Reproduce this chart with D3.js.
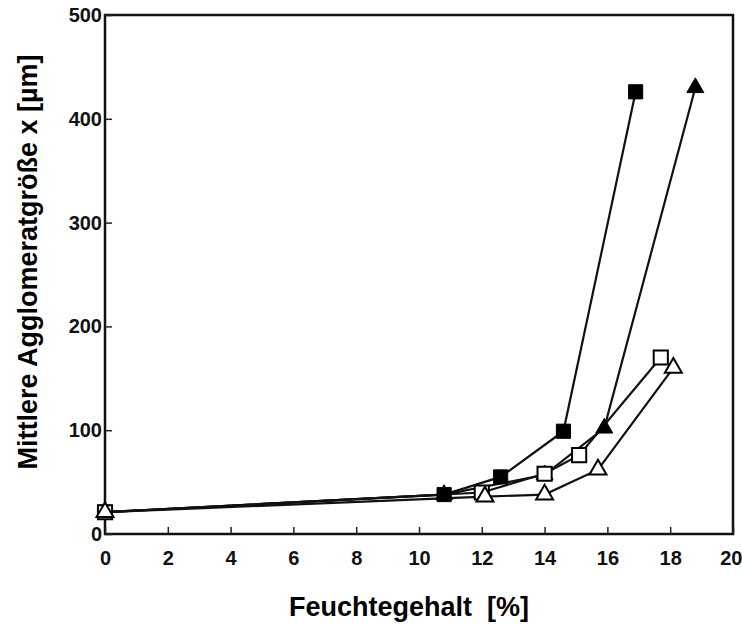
<!DOCTYPE html>
<html>
<head>
<meta charset="utf-8">
<script src="https://cdn.jsdelivr.net/npm/d3@7"></script>
<style>
  html, body { margin: 0; padding: 0; background: #fff; }
  svg { display: block; }
</style>
</head>
<body>
<div id="chart"></div>
<script>
// values
const xTicks = [0, 2, 4, 6, 8, 10, 12, 14, 16, 18, 20];
const yTicks = [0, 100, 200, 300, 400, 500];

const filledSquareX = [0, 10.8, 12.6, 14.6, 16.9];
const filledSquareY = [21, 38, 55, 99, 426];

const filledTriangleX = [0, 10.8, 14.0, 15.9, 18.8];
const filledTriangleY = [21, 38, 57, 102, 430];

const openSquareX = [0, 12.0, 14.0, 15.1, 17.7];
const openSquareY = [21, 40, 58, 76, 170];

const openTriangleX = [0, 12.1, 14.0, 15.7, 18.1];
const openTriangleY = [21, 36, 38, 62, 160];

const xLabel = 'Feuchtegehalt  [%]';
const yLabel = 'Mittlere Agglomeratgröße x [µm]';

const width = 743, height = 630;
const margin = { top: 15, right: 10, bottom: 96, left: 105 };

const svg = d3.select('#chart').append('svg')
  .attr('width', width)
  .attr('height', height);

const x = d3.scaleLinear()
  .domain([0, 20])
  .range([margin.left, width - margin.right]);

const y = d3.scaleLinear()
  .domain([0, 500])
  .range([height - margin.bottom, margin.top]);

const font = '"Liberation Sans", Arial, sans-serif';

// frame
svg.append('rect')
  .attr('x', x(0))
  .attr('y', y(500))
  .attr('width', x(20) - x(0))
  .attr('height', y(0) - y(500))
  .attr('fill', 'none')
  .attr('stroke', '#111')
  .attr('stroke-width', 2.5);

// x axis, ticks pointing inward
const xAxis = svg.append('g')
  .attr('transform', `translate(0,${y(0)})`)
  .call(d3.axisBottom(x).tickValues(xTicks).tickSize(-7).tickPadding(17).tickFormat(d3.format('d')));
xAxis.select('.domain').remove();
xAxis.selectAll('line').attr('stroke', '#222').attr('stroke-width', 1.5);
xAxis.selectAll('text')
  .attr('fill', '#111')
  .style('font-family', font)
  .style('font-weight', 'bold')
  .style('font-size', '20px');
// last label sits at the page edge, keep it inside
xAxis.selectAll('text')
  .filter(d => d === 20)
  .attr('text-anchor', 'end')
  .attr('dx', 9);

// y axis, ticks pointing inward
const yAxis = svg.append('g')
  .attr('transform', `translate(${x(0)},0)`)
  .call(d3.axisLeft(y).tickValues(yTicks).tickSize(-7).tickPadding(3).tickFormat(d3.format('d')));
yAxis.select('.domain').remove();
yAxis.selectAll('line').attr('stroke', '#222').attr('stroke-width', 1.5);
yAxis.selectAll('text')
  .attr('fill', '#111')
  .style('font-family', font)
  .style('font-weight', 'bold')
  .style('font-size', '20px');

// series
const series = [
  { xs: filledSquareX, ys: filledSquareY, shape: d3.symbolSquare, filled: true },
  { xs: filledTriangleX, ys: filledTriangleY, shape: d3.symbolTriangle, filled: true },
  { xs: openSquareX, ys: openSquareY, shape: d3.symbolSquare, filled: false },
  { xs: openTriangleX, ys: openTriangleY, shape: d3.symbolTriangle, filled: false }
];

const line = d3.line()
  .x(d => x(d[0]))
  .y(d => y(d[1]));

series.forEach(s => {
  const pts = s.xs.map((v, i) => [v, s.ys[i]]);
  svg.append('path')
    .datum(pts)
    .attr('fill', 'none')
    .attr('stroke', '#111')
    .attr('stroke-width', 2.2)
    .attr('d', line);
});

series.forEach(s => {
  const pts = s.xs.map((v, i) => [v, s.ys[i]]);
  const size = s.shape === d3.symbolSquare ? 200 : 125;
  svg.append('g').selectAll('path')
    .data(pts)
    .join('path')
    .attr('transform', d => `translate(${x(d[0])},${y(d[1])})`)
    .attr('d', d3.symbol().type(s.shape).size(size))
    .attr('fill', s.filled ? '#000' : '#fff')
    .attr('stroke', '#000')
    .attr('stroke-width', s.filled ? 1 : 2);
});

// axis titles
svg.append('text')
  .attr('x', 409)
  .attr('y', 616)
  .attr('text-anchor', 'middle')
  .style('white-space', 'pre')
  .style('font-family', font)
  .style('font-weight', 'bold')
  .style('font-size', '27px')
  .attr('fill', '#000')
  .text(xLabel);

svg.append('text')
  .attr('transform', 'translate(37,262) rotate(-90)')
  .attr('text-anchor', 'middle')
  .style('font-family', font)
  .style('font-weight', 'bold')
  .style('font-size', '27px')
  .attr('fill', '#000')
  .text(yLabel);
</script>
</body>
</html>
